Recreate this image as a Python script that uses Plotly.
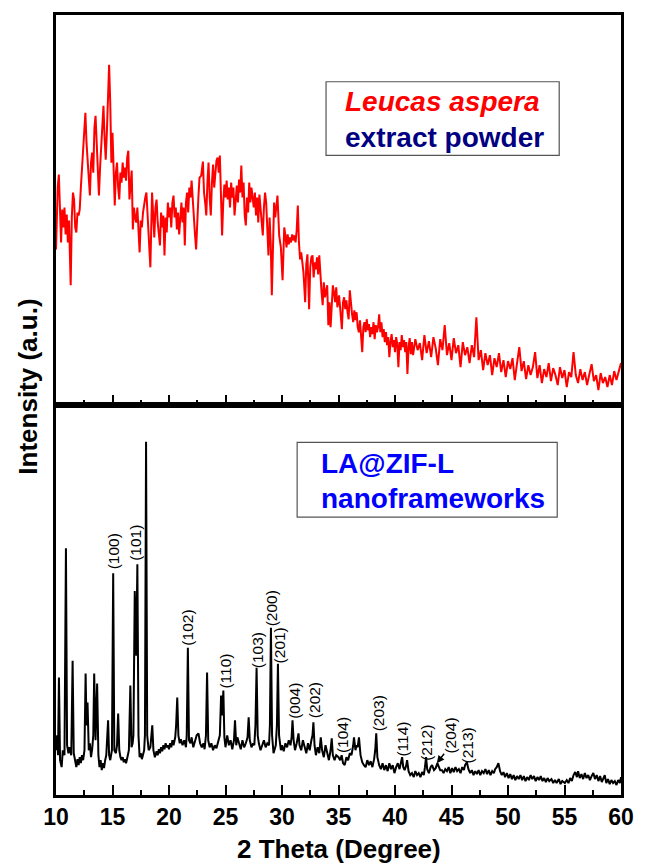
import plotly.graph_objects as go

# ---------------- data ----------------
top_2theta = [
    10.0, 10.15, 10.25, 10.35, 10.45, 10.55, 10.65, 10.75, 10.85, 10.95, 11.05, 11.15, 11.3, 11.4, 11.5,
    11.6, 11.7, 11.8, 11.9, 12.0, 12.1, 12.2, 12.3, 12.4, 12.5, 12.6, 12.7, 12.8, 12.9, 13.0,
    13.1, 13.2, 13.3, 13.4, 13.5, 13.6, 13.7, 13.8, 13.9, 14.0, 14.1, 14.2, 14.3, 14.4, 14.5,
    14.6, 14.7, 14.8, 14.9, 15.0, 15.1, 15.2, 15.3, 15.4, 15.5, 15.6, 15.7, 15.8, 15.9, 16.0,
    16.1, 16.2, 16.3, 16.4, 16.5, 16.6, 16.7, 16.8, 16.9, 17.0, 17.1, 17.2, 17.3, 17.4, 17.5,
    17.6, 17.7, 17.8, 17.9, 18.0, 18.1, 18.2, 18.35, 18.5, 18.6, 18.7, 18.8, 18.9, 19.0, 19.1,
    19.2, 19.3, 19.4, 19.5, 19.6, 19.7, 19.8, 19.9, 20.0, 20.1, 20.2, 20.3, 20.4, 20.5, 20.6,
    20.7, 20.8, 20.9, 21.0, 21.1, 21.2, 21.3, 21.4, 21.5, 21.6, 21.7, 21.8, 21.9, 22.0, 22.1,
    22.2, 22.3, 22.4, 22.5, 22.6, 22.7, 22.85, 23.0, 23.1, 23.2, 23.3, 23.4, 23.5, 23.6, 23.7,
    23.8, 23.9, 24.0, 24.1, 24.2, 24.3, 24.4, 24.5, 24.6, 24.7, 24.8, 24.9, 25.0, 25.1, 25.2,
    25.3, 25.4, 25.5, 25.6, 25.7, 25.8, 25.9, 26.0, 26.1, 26.2, 26.3, 26.4, 26.5, 26.6, 26.7,
    26.8, 26.9, 27.0, 27.1, 27.2, 27.3, 27.4, 27.5, 27.6, 27.7, 27.8, 27.9, 28.0, 28.1, 28.2,
    28.3, 28.4, 28.5, 28.6, 28.7, 28.8, 28.9, 29.0, 29.1, 29.2, 29.3, 29.4, 29.5, 29.6, 29.75,
    29.9, 30.05, 30.2, 30.3, 30.4, 30.5, 30.6, 30.7, 30.8, 30.9, 31.0, 31.1, 31.2, 31.3, 31.4,
    31.5, 31.6, 31.7, 31.8, 31.9, 32.05, 32.15, 32.25, 32.4, 32.5, 32.6, 32.7, 32.8, 32.9, 33.0,
    33.1, 33.2, 33.3, 33.4, 33.5, 33.6, 33.7, 33.8, 33.9, 34.0, 34.1, 34.2, 34.3, 34.4, 34.5,
    34.6, 34.7, 34.8, 34.9, 35.05, 35.2, 35.3, 35.4, 35.5, 35.6, 35.7, 35.8, 35.9, 36.0, 36.1,
    36.2, 36.3, 36.4, 36.5, 36.6, 36.7, 36.8, 36.9, 37.0, 37.1, 37.2, 37.3, 37.4, 37.5, 37.6,
    37.7, 37.8, 37.9, 38.0, 38.1, 38.2, 38.3, 38.4, 38.5, 38.6, 38.7, 38.8, 38.9, 39.0, 39.1,
    39.2, 39.3, 39.4, 39.5, 39.6, 39.7, 39.8, 39.9, 40.0, 40.1, 40.2, 40.3, 40.4, 40.5, 40.6,
    40.7, 40.8, 40.9, 41.0, 41.1, 41.2, 41.3, 41.4, 41.5, 41.6, 41.8, 42.0, 42.2, 42.4, 42.6,
    42.8, 43.0, 43.2, 43.4, 43.6, 43.8, 44.0, 44.2, 44.4, 44.6, 44.8, 45.0, 45.2, 45.4, 45.6,
    45.8, 46.0, 46.2, 46.4, 46.6, 46.8, 47.0, 47.2, 47.4, 47.6, 47.8, 48.0, 48.2, 48.4, 48.6,
    48.8, 49.0, 49.2, 49.4, 49.6, 49.8, 50.0, 50.2, 50.4, 50.6, 50.8, 51.0, 51.2, 51.4, 51.6,
    51.8, 52.0, 52.2, 52.4, 52.6, 52.8, 53.0, 53.2, 53.4, 53.6, 53.8, 54.0, 54.2, 54.4, 54.6,
    54.8, 55.0, 55.2, 55.4, 55.6, 55.8, 56.0, 56.2, 56.4, 56.6, 56.8, 57.0, 57.2, 57.4, 57.6,
    57.8, 58.0, 58.2, 58.4, 58.6, 58.8, 59.0, 59.2, 59.4, 59.6, 59.8, 60.0,
]
top_intensity = [
    156, 218, 231, 188, 163, 196, 178, 198, 171, 191, 163, 185, 120, 188, 213,
    206, 178, 173, 193, 190, 196, 218, 238, 260, 273, 293, 263, 246, 233, 210,
    243, 253, 233, 278, 290, 266, 243, 210, 238, 260, 285, 300, 268, 246, 273,
    308, 341, 303, 243, 273, 228, 200, 233, 243, 218, 206, 233, 223, 243, 228,
    238, 225, 248, 255, 206, 223, 235, 176, 198, 188, 183, 198, 171, 153, 185,
    178, 193, 203, 208, 213, 188, 168, 138, 213, 188, 168, 198, 206, 183, 173,
    160, 193, 178, 190, 150, 188, 173, 203, 188, 198, 178, 203, 210, 188, 198,
    176, 193, 171, 190, 203, 183, 198, 160, 203, 213, 193, 218, 208, 225, 203,
    188, 171, 156, 193, 208, 228, 230, 244, 213, 203, 190, 223, 243, 208, 190,
    223, 241, 218, 235, 245, 248, 233, 250, 213, 170, 203, 221, 208, 225, 206,
    218, 198, 223, 208, 218, 190, 208, 220, 203, 226, 213, 240, 208, 223, 190,
    180, 208, 193, 223, 203, 218, 210, 198, 213, 190, 208, 183, 211, 198, 188,
    170, 198, 213, 203, 178, 150, 188, 163, 110, 173, 203, 188, 203, 210, 170,
    158, 125, 178, 170, 158, 171, 161, 168, 163, 171, 165, 170, 163, 175, 200,
    163, 146, 153, 143, 133, 103, 141, 151, 96, 138, 148, 150, 128, 143, 136,
    148, 131, 150, 125, 113, 100, 123, 108, 115, 120, 80, 103, 78, 108, 120,
    113, 103, 118, 98, 110, 93, 76, 103, 108, 96, 105, 93, 86, 115, 98,
    91, 83, 95, 85, 93, 78, 73, 85, 68, 53, 78, 83, 73, 86, 75,
    81, 68, 78, 71, 83, 66, 80, 73, 78, 91, 73, 83, 68, 76, 63,
    73, 60, 68, 48, 63, 71, 58, 65, 53, 68, 61, 38, 63, 55, 70,
    58, 65, 53, 63, 31, 58, 67, 51, 63, 50, 66, 55, 62, 45, 70,
    52, 64, 48, 68, 57, 40, 66, 55, 80, 50, 62, 45, 67, 52, 60,
    38, 63, 50, 58, 42, 60, 48, 88, 45, 55, 35, 52, 40, 50, 30,
    47, 38, 52, 33, 45, 28, 44, 36, 47, 25, 42, 58, 34, 44, 26,
    40, 30, 38, 53, 27, 40, 22, 36, 28, 42, 24, 37, 30, 20, 38,
    27, 35, 18, 33, 28, 53, 30, 22, 36, 25, 33, 20, 31, 41, 24,
    30, 15, 32, 22, 28, 18, 30, 20, 34, 25, 33, 42,
]

bot_2theta = [
    10.0, 10.1, 10.18, 10.26, 10.36, 10.5, 10.6, 10.75, 10.88, 10.98, 11.1, 11.2, 11.35, 11.47, 11.57,
    11.7, 11.8, 11.9, 12.0, 12.1, 12.2, 12.3, 12.4, 12.52, 12.62, 12.7, 12.79, 12.9, 13.0, 13.1,
    13.2, 13.3, 13.38, 13.5, 13.64, 13.75, 13.85, 13.95, 14.05, 14.15, 14.25, 14.35, 14.45, 14.61, 14.7,
    14.8, 14.95, 15.06, 15.16, 15.3, 15.4, 15.5, 15.6, 15.7, 15.8, 15.9, 16.0, 16.1, 16.2, 16.3,
    16.45, 16.58, 16.68, 16.78, 16.85, 16.97, 17.05, 17.1, 17.2, 17.3, 17.4, 17.5, 17.6, 17.7, 17.8,
    17.87, 17.97, 18.07, 18.2, 18.35, 18.52, 18.62, 18.75, 18.9, 19.0, 19.1, 19.2, 19.3, 19.4, 19.5,
    19.6, 19.7, 19.8, 19.9, 20.0, 20.1, 20.2, 20.3, 20.4, 20.55, 20.63, 20.73, 20.83, 20.95, 21.05,
    21.2, 21.35, 21.5, 21.57, 21.67, 21.77, 21.9, 22.0, 22.15, 22.3, 22.45, 22.61, 22.75, 22.9, 23.05,
    23.15, 23.27, 23.37, 23.47, 23.6, 23.75, 23.9, 24.05, 24.2, 24.35, 24.5, 24.61, 24.7, 24.81, 24.9,
    25.0, 25.15, 25.3, 25.45, 25.6, 25.75, 25.84, 25.95, 26.05, 26.2, 26.35, 26.5, 26.65, 26.8, 26.95,
    27.05, 27.15, 27.3, 27.45, 27.55, 27.65, 27.75, 27.85, 27.95, 28.1, 28.25, 28.4, 28.55, 28.7, 28.85,
    28.93, 29.02, 29.12, 29.25, 29.35, 29.45, 29.55, 29.64, 29.74, 29.9, 30.0, 30.15, 30.3, 30.45, 30.6,
    30.75, 30.85, 30.93, 31.03, 31.15, 31.3, 31.46, 31.55, 31.7, 31.85, 32.0, 32.15, 32.3, 32.45, 32.6,
    32.7, 32.78, 32.88, 33.0, 33.15, 33.3, 33.43, 33.55, 33.7, 33.85, 34.0, 34.15, 34.3, 34.4, 34.5,
    34.65, 34.8, 35.0, 35.15, 35.28, 35.4, 35.55, 35.7, 35.85, 36.0, 36.15, 36.3, 36.37, 36.5, 36.6,
    36.7, 36.81, 36.95, 37.1, 37.25, 37.4, 37.55, 37.7, 37.85, 38.0, 38.15, 38.25, 38.34, 38.44, 38.6,
    38.75, 38.9, 39.05, 39.2, 39.35, 39.5, 39.65, 39.8, 39.95, 40.1, 40.25, 40.4, 40.52, 40.63, 40.73,
    40.85, 41.0, 41.07, 41.2, 41.35, 41.5, 41.66, 41.8, 41.95, 42.1, 42.25, 42.4, 42.55, 42.65, 42.75,
    42.85, 43.0, 43.15, 43.28, 43.45, 43.6, 43.75, 43.87, 44.0, 44.16, 44.3, 44.45, 44.6, 44.75, 44.9,
    45.05, 45.2, 45.35, 45.5, 45.65, 45.8, 45.95, 46.1, 46.2, 46.36, 46.5, 46.65, 46.8, 46.95, 47.1,
    47.25, 47.4, 47.55, 47.7, 47.85, 48.0, 48.15, 48.3, 48.45, 48.6, 48.75, 48.86, 49.0, 49.15, 49.3,
    49.45, 49.6, 49.74, 49.9, 50.05, 50.2, 50.35, 50.5, 50.65, 50.8, 50.95, 51.1, 51.25, 51.4, 51.55,
    51.7, 51.85, 52.0, 52.15, 52.3, 52.45, 52.6, 52.75, 52.9, 53.05, 53.2, 53.35, 53.5, 53.65, 53.85,
    54.0, 54.15, 54.3, 54.5, 54.65, 54.8, 55.03, 55.2, 55.35, 55.5, 55.65, 55.8, 55.95, 56.1, 56.2,
    56.35, 56.5, 56.65, 56.8, 56.95, 57.1, 57.25, 57.4, 57.55, 57.7, 57.85, 58.0, 58.15, 58.3, 58.45,
    58.56, 58.7, 58.85, 59.0, 59.15, 59.3, 59.45, 59.6, 59.75, 59.9, 60.0,
]
bot_intensity = [
    45, 60, 40, 118, 35, 28, 45, 40, 248, 50, 42, 48, 40, 135, 42,
    35, 28, 36, 30, 38, 32, 40, 35, 45, 122, 70, 93, 45, 52, 38,
    46, 60, 122, 55, 112, 40, 28, 35, 25, 32, 27, 35, 40, 75, 40,
    35, 45, 223, 45, 42, 50, 82, 45, 38, 35, 38, 33, 36, 32, 37,
    45, 110, 48, 52, 60, 205, 150, 140, 232, 60, 38, 42, 36, 40, 45,
    60, 355, 60, 45, 48, 70, 45, 38, 44, 40, 46, 42, 48, 44, 50,
    46, 52, 48, 50, 46, 52, 48, 55, 50, 58, 70, 98, 60, 52, 56,
    50, 55, 48, 60, 148, 55, 52, 58, 48, 55, 60, 62, 52, 48, 52,
    46, 60, 123, 55, 48, 52, 45, 50, 47, 55, 60, 100, 80, 105, 58,
    48, 60, 50, 55, 46, 55, 75, 50, 58, 52, 46, 55, 48, 52, 58,
    78, 55, 48, 52, 50, 70, 128, 60, 52, 45, 50, 55, 48, 52, 50,
    70, 168, 60, 42, 48, 50, 70, 132, 60, 45, 50, 44, 52, 48, 55,
    50, 58, 75, 55, 45, 52, 62, 50, 45, 55, 48, 42, 52, 45, 55,
    60, 73, 50, 40, 48, 42, 58, 45, 38, 50, 42, 35, 45, 57, 40,
    35, 40, 38, 35, 40, 32, 30, 38, 35, 42, 40, 50, 58, 45, 50,
    48, 58, 40, 33, 30, 28, 35, 30, 34, 28, 36, 45, 62, 38, 30,
    26, 32, 25, 30, 24, 32, 26, 30, 22, 28, 32, 26, 32, 38, 28,
    25, 30, 35, 24, 20, 22, 18, 24, 20, 22, 18, 23, 20, 28, 38,
    26, 22, 28, 30, 25, 27, 32, 28, 25, 25, 22, 26, 24, 28, 22,
    27, 23, 28, 24, 26, 22, 28, 25, 30, 33, 26, 22, 25, 20, 24,
    21, 25, 20, 24, 22, 26, 21, 25, 20, 24, 22, 26, 28, 32, 24,
    20, 23, 18, 22, 17, 21, 16, 20, 15, 19, 16, 20, 15, 19, 14,
    18, 15, 20, 16, 19, 14, 18, 15, 19, 14, 17, 13, 17, 14, 16,
    12, 15, 12, 16, 11, 14, 12, 15, 12, 17, 14, 20, 23, 18, 24,
    17, 21, 16, 22, 17, 20, 15, 19, 22, 16, 20, 14, 19, 13, 17,
    20, 12, 16, 11, 15, 12, 14, 10, 15, 12, 18,
]

hkl_labels = ["(100)", "(101)", "(102)", "(110)", "(103)", "(200)", "(201)", "(004)",
              "(202)", "(104)", "(203)", "(114)", "(212)", "(204)", "(213)"]
hkl_2theta = [15.06, 17.05, 21.67, 25.0, 27.84, 29.07, 29.8, 31.1,
              32.9, 35.3, 38.5, 40.7, 42.8, 44.9, 46.4]
hkl_label_base = [225, 233, 148, 105, 125, 168, 130, 75,
                  75, 40, 62, 37, 32, 40, 30]

x_ticks = [10, 15, 20, 25, 30, 35, 40, 45, 50, 55, 60]
x_tick_text = ["10", "15", "20", "25", "30", "35", "40", "45", "50", "55", "60"]

# ---------------- layout geometry ----------------
W, H = 646, 864
L, R, T, B = 56, 23, 12, 69
PW, PH = W - L - R, H - T - B


def px(xp):
    return (xp - L) / PW


def py(yp):
    return (H - B - yp) / PH


FONT = "Liberation Sans, Arial, sans-serif"

fig = go.Figure()
fig.add_trace(go.Scatter(x=top_2theta, y=top_intensity, xaxis="x2", yaxis="y",
                         mode="lines", line=dict(color="#FF0000", width=2.0),
                         showlegend=False, hoverinfo="skip"))
fig.add_trace(go.Scatter(x=bot_2theta, y=bot_intensity, xaxis="x", yaxis="y2",
                         mode="lines", line=dict(color="#000000", width=2.0),
                         showlegend=False, hoverinfo="skip"))

axis_common = dict(
    range=[10, 60], tickvals=x_ticks, ticktext=x_tick_text,
    ticks="inside", ticklen=10, tickwidth=2, tickcolor="black",
    showline=True, linewidth=2.5, linecolor="black", mirror=True,
    showgrid=False, zeroline=False,
    minor=dict(tickvals=[12.5, 17.5, 22.5, 27.5, 32.5, 37.5, 42.5, 47.5, 52.5, 57.5],
               ticks="inside", ticklen=5, tickwidth=2, tickcolor="black"),
)
yaxis_common = dict(showline=True, linewidth=2.5, linecolor="black", mirror=True,
                    ticks="", showticklabels=False, showgrid=False, zeroline=False)

fig.update_layout(
    width=W, height=H,
    margin=dict(l=L, r=R, t=T, b=B),
    paper_bgcolor="white", plot_bgcolor="white",
    xaxis=dict(domain=[0, 1], anchor="y2",
               tickfont=dict(family=FONT, size=23, color="black", weight="bold"),
               **axis_common),
    xaxis2=dict(domain=[0, 1], anchor="y", matches="x", showticklabels=False,
                **axis_common),
    yaxis=dict(domain=[0.5, 1], range=[0, 391], **yaxis_common),
    yaxis2=dict(domain=[0, 0.5], range=[0, 392], **yaxis_common),
)

annotations = []
# axis titles
annotations.append(dict(text="2 Theta (Degree)", x=0.5, y=py(849), xref="paper", yref="paper",
                        xanchor="center", yanchor="middle", showarrow=False,
                        font=dict(family=FONT, size=26, color="black", weight="bold")))
annotations.append(dict(text="Intensity (a.u.)", x=px(27), y=py(385), xref="paper", yref="paper",
                        xanchor="center", yanchor="middle", showarrow=False, textangle=-90,
                        font=dict(family=FONT, size=26, color="black", weight="bold")))
# legend-like boxes text
annotations.append(dict(text="<i>Leucas aspera</i>", x=px(444), y=py(99), xref="paper", yref="paper",
                        xanchor="center", yanchor="middle", showarrow=False,
                        font=dict(family=FONT, size=28, color="#FF0000", weight="bold")))
annotations.append(dict(text="extract powder", x=px(446), y=py(135), xref="paper", yref="paper",
                        xanchor="center", yanchor="middle", showarrow=False,
                        font=dict(family=FONT, size=28, color="#000080", weight="bold")))
annotations.append(dict(text="LA@ZIF-L", x=px(320), y=py(462), xref="paper", yref="paper",
                        xanchor="left", yanchor="middle", showarrow=False,
                        font=dict(family=FONT, size=28, color="#0000FF", weight="bold")))
annotations.append(dict(text="nanoframeworks", x=px(320), y=py(497), xref="paper", yref="paper",
                        xanchor="left", yanchor="middle", showarrow=False,
                        font=dict(family=FONT, size=28, color="#0000FF", weight="bold")))
# hkl labels
for lab, xx, yy in zip(hkl_labels, hkl_2theta, hkl_label_base):
    annotations.append(dict(text=lab, x=xx, y=yy, xref="x", yref="y2", textangle=-90,
                            xanchor="center", yanchor="bottom", showarrow=False,
                            font=dict(family=FONT, size=15.5, color="black")))
# arrow for (204)
annotations.append(dict(text="", x=43.7, y=32, xref="x", yref="y2",
                        ax=44.45, ay=43, axref="x", ayref="y2",
                        showarrow=True, arrowhead=2, arrowsize=1, arrowwidth=1.5,
                        arrowcolor="black"))
fig.update_layout(annotations=annotations)

shapes = [
    dict(type="rect", xref="paper", yref="paper", x0=px(327), x1=px(561), y0=py(153), y1=py(79),
         line=dict(color="#555555", width=1.2), fillcolor="rgba(0,0,0,0)", layer="above"),
    dict(type="rect", xref="paper", yref="paper", x0=px(298), x1=px(559), y0=py(516), y1=py(441),
         line=dict(color="#555555", width=1.2), fillcolor="rgba(0,0,0,0)", layer="above"),
]
fig.update_layout(shapes=shapes)

fig.write_html("out.html")
